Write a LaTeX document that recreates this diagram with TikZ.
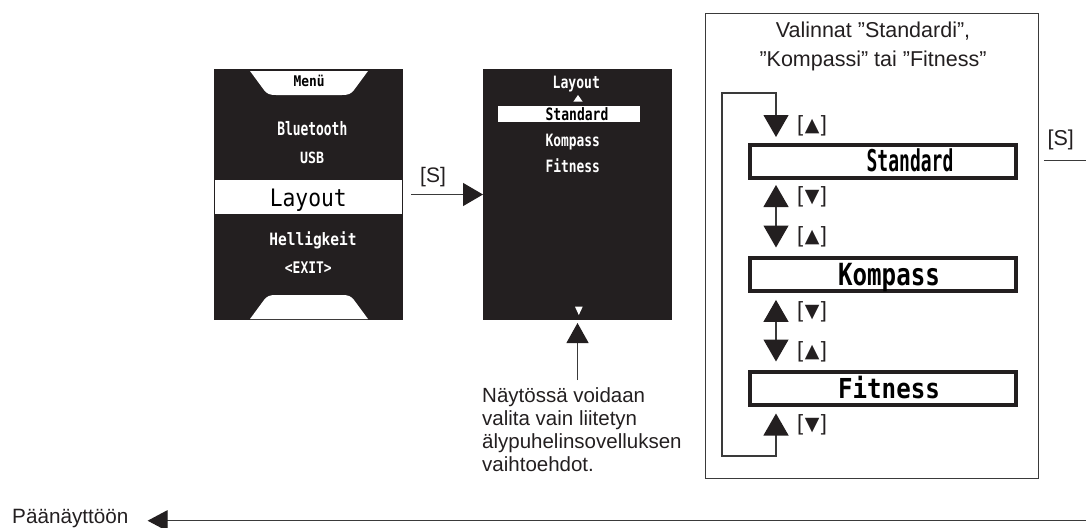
\documentclass[tikz,border=0pt]{standalone}
\usepackage{fontspec}
\usepackage{graphicx}
\setmainfont{Liberation Sans}
\newfontfamily\lcd{DejaVu Sans Mono}
\newfontfamily\symf{DejaVu Sans}
\usetikzlibrary{arrows.meta}
\definecolor{scr}{HTML}{231F20}
\definecolor{lnc}{HTML}{3A3A3A}
\newcommand\lcdtxt[3]{\fontsize{#1}{#1}\selectfont\lcd\resizebox{#2pt}{\height}{#3}}
\newcommand\lcdtxtb[3]{\fontsize{#1}{#1}\selectfont\lcd\bfseries\resizebox{#2pt}{\height}{#3}}
\newcommand\keyup{[\kern1.5pt{\symf\fontsize{19}{19}\selectfont ▲}\kern1.5pt]}
\newcommand\keydown{[\kern1.5pt{\symf\fontsize{19}{19}\selectfont ▼}\kern1.5pt]}
\tikzset{
  Ptip/.tip={Triangle[length=22pt,width=25pt,color=scr]},
  Stip/.tip={Triangle[length=20pt,width=23pt,color=scr]},
  Ntip/.tip={Triangle[length=20pt,width=22pt,color=scr]},
  Htip/.tip={Triangle[length=20pt,width=21pt,color=scr]},
  screen/.style={fill=scr, inner sep=0pt, outer sep=0pt, anchor=north west},
  lcdw/.style={text=white, inner sep=0pt, anchor=base},
  lcdb/.style={text=black, inner sep=0pt, anchor=base},
  optbox/.style={draw=scr, line width=4pt, minimum width=266pt, minimum height=33pt, inner sep=0pt},
  conn/.style={draw=lnc, line width=1.2pt},
  pboth/.style={conn, {Ptip}-{Ptip}},
  pend/.style={conn, -{Ptip}},
  keylbl/.style={anchor=west, inner sep=0pt, font=\fontsize{22}{22}\selectfont, text=scr},
  plain/.style={inner sep=0pt, text=scr},
}
\begin{document}
\begin{tikzpicture}[x=1pt,y=-1pt]
\useasboundingbox (0,0) rectangle (1086,527);

% ---------- menu screen ----------
\node[screen, minimum width=189pt, minimum height=251pt] (menu) at (214,69) {};
\fill[white] (250,71) -- (264,90) .. controls (267,94) and (270,95) .. (276,95) -- (342,95) .. controls (348,95) and (351,94) .. (354,90) -- (368,71) -- cycle;
\fill[white] (250,319) -- (264,300) .. controls (267,296) and (270,295) .. (276,295) -- (342,295) .. controls (348,295) and (351,296) .. (354,300) -- (368,319) -- cycle;
\fill[white] (215,180) rectangle (401.5,214);
\node[lcdb] (mtitle) at (309,86.7) {\lcdtxtb{14.7}{31}{Menü}};
\node[lcdw] (mbt) at (312.3,135) {\lcdtxtb{18.5}{70}{Bluetooth}};
\node[lcdw] (musb) at (312,163.3) {\lcdtxtb{15.5}{24}{USB}};
\node[lcdb] (mlay) at (308.3,206.7) {\lcdtxt{24}{77}{Layout}};
\node[lcdw] (mhel) at (313,245) {\lcdtxtb{17}{87.4}{Helligkeit}};
\node[lcdw] (mexit) at (308.3,273.3) {\lcdtxtb{16}{46.7}{<EXIT>}};

% ---------- layout screen ----------
\node[screen, minimum width=189pt, minimum height=251pt] (scr2) at (483,69) {};
\fill[white] (573.3,101.7) -- (582.7,101.7) -- (578,95) -- cycle;
\fill[white] (498,105.7) rectangle (640,121.7);
\node[lcdw] (s2t) at (576.3,88.3) {\lcdtxtb{17}{47.3}{Layout}};
\node[lcdb] (s2a) at (577,120) {\lcdtxtb{17}{62.7}{Standard}};
\node[lcdw] (s2b) at (572.8,146) {\lcdtxtb{17}{54.3}{Kompass}};
\node[lcdw] (s2c) at (572.8,172) {\lcdtxtb{17}{54.3}{Fitness}};
\fill[white] (575,306.7) -- (582.7,306.7) -- (578.8,315) -- cycle;

% arrow menu -> layout
\draw[conn, -{Stip}] ([xshift=8pt]menu.east) -- (scr2.west);
\node[plain, font=\fontsize{21}{21}\selectfont] (s1) at (433,177) {[S]};

% note
\coordinate (nt) at (577.5,380);
\draw[conn, -{Ntip}] (nt) -- ([yshift=-3pt]scr2.south);
\node[plain, anchor=north west, align=left, font=\fontsize{20.5}{23}\selectfont] (note) at (482,387.5)
  {Näytössä voidaan\\valita vain liitetyn\\älypuhelinsovelluksen\\vaihtoehdot.};

% ---------- panel ----------
\node[draw=lnc, line width=1.2pt, minimum width=333pt, minimum height=465pt, inner sep=0pt, anchor=north west] (panel) at (705,13) {};
\node[plain, anchor=north, align=center, font=\fontsize{21.5}{29.4}\selectfont] (ptitle) at (873,21.6)
  {Valinnat ”Standardi”,\\”Kompassi” tai ”Fitness”};

\node[optbox] (std) at (883,161.5) {};
\node[optbox] (komp) at (883,274.7) {};
\node[optbox] (fit) at (883,388) {};
\node[lcdb] (stdt) at (910,171.7) {\lcdtxtb{30}{86.7}{Standard}};
\node[lcdb] (kompt) at (889,285) {\lcdtxtb{30.5}{101.7}{Kompass}};
\node[lcdb] (fitt) at (889,398.5) {\lcdtxtb{27.5}{101.7}{Fitness}};

\coordinate (col) at (776,0);
\coordinate (lb) at (722,456);
\coordinate (lt) at (776,93);
\draw[pboth] ([yshift=-7pt]fit.south -| col) |- (lb) |- (lt) -- ([yshift=6pt]std.north -| col);
\draw[pboth] ([yshift=-5pt]std.south -| col) -- ([yshift=8.7pt]komp.north -| col);
\draw[pboth] ([yshift=-6.7pt]komp.south -| col) -- ([yshift=8pt]fit.north -| col);

\node[keylbl] (k1) at (797,126) {\keyup};
\node[keylbl] (k2) at (797,196.7) {\keydown};
\node[keylbl] (k3) at (797,236.5) {\keyup};
\node[keylbl] (k4) at (797,311.5) {\keydown};
\node[keylbl] (k5) at (797,351.5) {\keyup};
\node[keylbl] (k6) at (797,424.5) {\keydown};

% ---------- exit [S] ----------
\coordinate (rs) at (1086,160.7);
\draw[conn] ([xshift=4.7pt]panel.east |- rs) -- (rs);
\node[plain, anchor=base, font=\fontsize{21.5}{21.5}\selectfont] (s2) at (1060.8,145) {[S]};

% ---------- back to main ----------
\node[plain, anchor=base west, font=\fontsize{20.7}{20.7}\selectfont] (home) at (12,523.3) {Päänäyttöön};
\coordinate (be) at (1086,520.7);
\draw[conn, -{Htip}] (be) -- ([xshift=19pt]home.east |- be);
\end{tikzpicture}
\end{document}
